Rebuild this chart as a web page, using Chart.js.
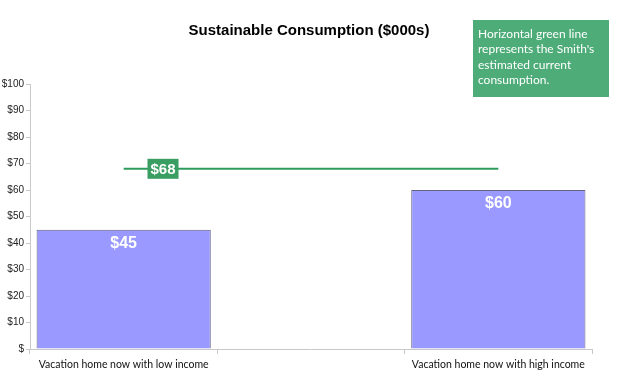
<!DOCTYPE html>
<html><head><meta charset="utf-8">
<script src="https://cdn.jsdelivr.net/npm/chart.js@4/dist/chart.umd.min.js"></script>
<style>html,body{margin:0;padding:0;background:#fff}#wrap{width:624px;height:378px}</style>
</head><body><div id="wrap"><canvas id="c" width="624" height="378"></canvas></div>
<script>
const categories = ['Vacation home now with low income', '', 'Vacation home now with high income'];
const consumption = [45, null, 60];
const currentConsumption = [68, 68, 68];
const currentLabel = '$68';
const titleText = 'Sustainable Consumption ($000s)';
const noteLines = ['Horizontal green line', "represents the Smith's", 'estimated current', 'consumption.'];
const yMin = 0, yMax = 100, yStep = 10;

const overlay = {
  id: 'overlay',
  afterDatasetsDraw(chart) {
    const ctx = chart.ctx;
    const xs = chart.scales.x, ys = chart.scales.y;
    const meta = chart.getDatasetMeta(0);
    ctx.save();
    ctx.font = 'bold 16px Arial, "Liberation Sans"';
    ctx.fillStyle = '#ffffff';
    ctx.textAlign = 'center';
    ctx.textBaseline = 'middle';
    meta.data.forEach((el, i) => {
      const v = consumption[i];
      if (v == null) return;
      ctx.fillText('$' + v, el.x, el.y + 14);
    });
    const x0 = xs.getPixelForValue(0), x1 = xs.getPixelForValue(1);
    const lx = x0 + (x1 - x0) * 0.21;
    const ly = ys.getPixelForValue(currentConsumption[0]);
    ctx.font = 'bold 15px Arial, "Liberation Sans"';
    const w = ctx.measureText(currentLabel).width + 6;
    ctx.fillStyle = '#3a9d62';
    ctx.fillRect(lx - w / 2, ly - 10, w, 20);
    ctx.fillStyle = '#ffffff';
    ctx.fillText(currentLabel, lx, ly + 1);
    ctx.restore();
  },
  afterDraw(chart) {
    const ctx = chart.ctx;
    ctx.save();
    ctx.fillStyle = '#000';
    ctx.font = 'bold 15px Arial, "Liberation Sans"';
    ctx.textAlign = 'center';
    ctx.textBaseline = 'middle';
    ctx.fillText(titleText, 309, 31);
    ctx.fillStyle = '#4dac78';
    ctx.fillRect(473, 20, 136, 77);
    ctx.fillStyle = '#ffffff';
    ctx.font = '12px Lato, "Open Sans", sans-serif';
    ctx.textAlign = 'left';
    noteLines.forEach((t, i) => ctx.fillText(t, 478, 34 + i * 15.5));
    ctx.restore();
  }
};

new Chart(document.getElementById('c'), {
  data: {
    labels: categories,
    datasets: [
      {
        type: 'bar',
        data: consumption,
        backgroundColor: '#9999ff',
        borderColor: '#63637e',
        borderWidth: 1,
        borderSkipped: 'bottom',
        barPercentage: 0.93,
        categoryPercentage: 1,
        order: 2
      },
      {
        type: 'line',
        data: currentConsumption,
        borderColor: '#2e9a5c',
        borderWidth: 2,
        pointRadius: 0,
        fill: false,
        order: 1
      }
    ]
  },
  options: {
    responsive: false,
    animation: false,
    layout: { padding: { top: 84, right: 32, bottom: 0, left: 0 } },
    plugins: {
      legend: { display: false },
      tooltip: { enabled: false },
      title: { display: false }
    },
    scales: {
      x: {
        offset: true,
        grid: { display: true, offset: true, drawOnChartArea: false, tickLength: 5, color: '#c8c8c8' },
        border: { color: '#c8c8c8' },
        ticks: { color: '#111', font: { family: 'Lato, "Open Sans", sans-serif', size: 10.5 }, maxRotation: 0, autoSkip: false, padding: 4 },
        afterFit(s) { s.height = 29; }
      },
      y: {
        min: yMin, max: yMax,
        grid: { display: true, drawOnChartArea: false, tickLength: 4, color: '#c8c8c8' },
        border: { color: '#c8c8c8' },
        ticks: {
          stepSize: yStep,
          color: '#222',
          padding: 2,
          font: { family: 'Arial, "Liberation Sans"', size: 10 },
          callback: v => v === 0 ? '$' : '$' + v
        },
        afterFit(s) { s.width = 30; }
      }
    }
  },
  plugins: [overlay]
});
</script>
</body></html>
